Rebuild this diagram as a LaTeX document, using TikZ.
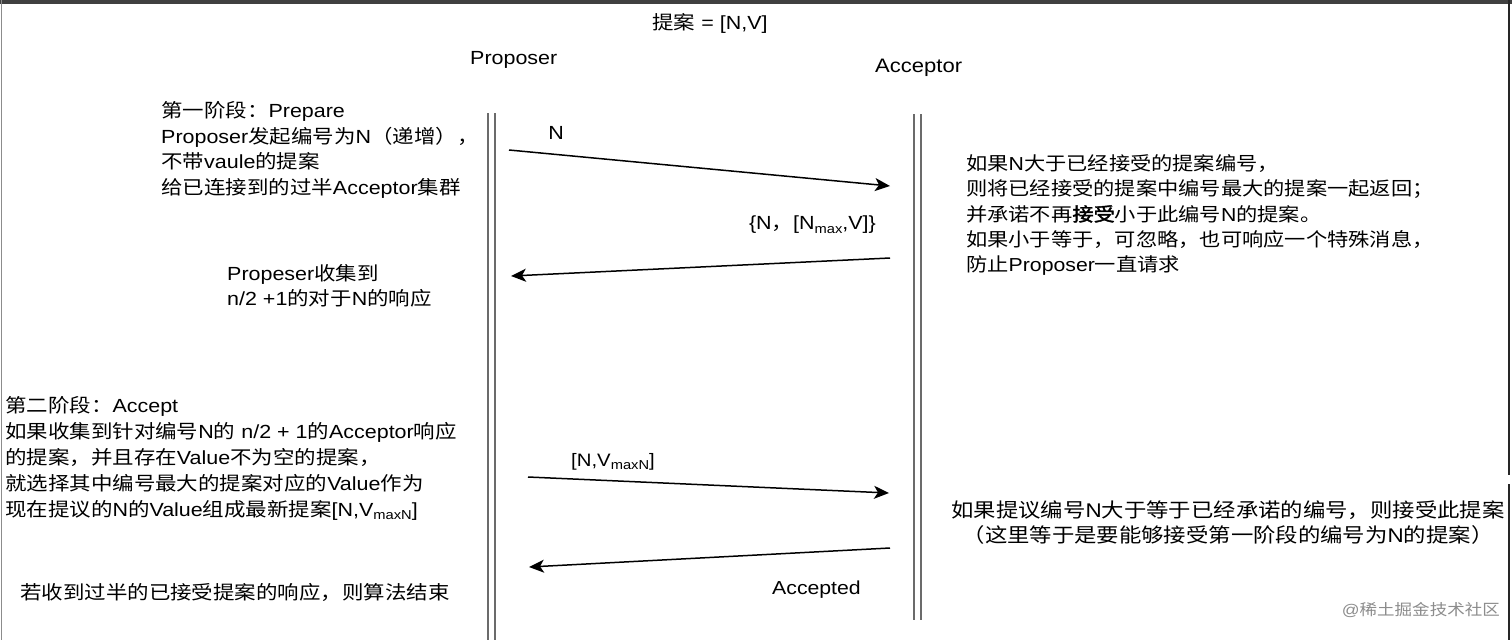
\documentclass[tikz,border=0pt]{standalone}
\usepackage{fontspec}
\usepackage{graphicx}
\setmainfont{Liberation Sans}
\newfontfamily\latinfont{Liberation Sans}
\newfontfamily\cjk{Noto Sans CJK SC}[AutoFakeBold=2]
\usetikzlibrary{arrows.meta}
\XeTeXinterchartokenstate=1
\newXeTeXintercharclass\CJKcls
\makeatletter
\count@="4E00
\loop\XeTeXcharclass\count@=\CJKcls\ifnum\count@<"9FFF\advance\count@ by 1\repeat
\count@="3000
\loop\XeTeXcharclass\count@=\CJKcls\ifnum\count@<"303F\advance\count@ by 1\repeat
\count@="FF00
\loop\XeTeXcharclass\count@=\CJKcls\ifnum\count@<"FFEF\advance\count@ by 1\repeat
\makeatother
\XeTeXinterchartoks 0 \CJKcls = {\cjk}
\XeTeXinterchartoks 4095 \CJKcls = {\cjk}
\XeTeXinterchartoks \CJKcls 0 = {\latinfont}
\XeTeXinterchartoks \CJKcls 4095 = {\latinfont}
\newcommand\sx[1]{\scalebox{1.13}[1]{#1}}
\newcommand\ml[1]{\begin{tabular}{@{}l@{}}#1\end{tabular}}
\newcommand\mc[1]{\begin{tabular}{@{}c@{}}#1\end{tabular}}
\newcommand\sbx[1]{\raisebox{-0.32ex}{\fontsize{13}{13}\selectfont #1}}
\tikzset{
  lbl/.style={inner sep=0pt, anchor=west},
  life/.style={line width=2pt, draw=black!58},
  msg/.style={line width=1.5pt, draw=black, -{Stealth[length=15pt,width=13pt,inset=4pt]}},
  f19/.style={font=\fontsize{19}{25.5}\selectfont},
}
\begin{document}
\begin{tikzpicture}[x=1pt,y=-1pt]
\useasboundingbox (0,0) rectangle (1512,640);
\fill[white] (0,0) rectangle (1512,640);
% frame of the screenshot
\fill[black!75] (0,0) rectangle (1512,4);
\draw[black!45, line width=1.5pt] (1.5,0) -- (1.5,640);
\draw[black!85, line width=2pt] (1509,0) -- (1509,475);
\draw[black!85, line width=2pt] (1509,484) -- (1509,640);
% lifelines
\coordinate (pa1) at (488,113);   \coordinate (pa2) at (488,640);
\coordinate (pb1) at (494.5,113); \coordinate (pb2) at (494.5,640);
\coordinate (aa1) at (913.5,114); \coordinate (aa2) at (913.5,620);
\coordinate (ab1) at (920.5,114); \coordinate (ab2) at (920.5,620);
\draw[life] (pa1) -- (pa2);
\draw[life] (pb1) -- (pb2);
\draw[life] (aa1) -- (aa2);
\draw[life] (ab1) -- (ab2);
% titles
\node[inner sep=0pt, f19] (title) at (710,23) {\sx{提案 = [N,V]}};
\node[lbl, f19] (prop) at (470,60) {\sx{Proposer}};
\node[lbl, font=\fontsize{19.5}{25}\selectfont] (acc) at (875,68) {\sx{Acceptor}};
% phase 1
\node[lbl, f19] (ph1) at (161,151) {\sx{\ml{第一阶段：Prepare\\Proposer发起编号为N（递增），\\不带vaule的提案\\给已连接到的过半Acceptor集群}}};
\node[lbl, font=\fontsize{19}{25}\selectfont] (coll) at (227,287.5) {\sx{\ml{Propeser收集到\\n/2 +1的对于N的响应}}};
\node[lbl, font=\fontsize{18.8}{25.3}\selectfont] (r1) at (966,216) {\sx{\ml{如果N大于已经接受的提案编号，\\则将已经接受的提案中编号最大的提案一起返回；\\并承诺不再\textbf{接受}小于此编号N的提案。\\如果小于等于，可忽略，也可响应一个特殊消息，\\防止Proposer一直请求}}};
% phase 2
\node[lbl, font=\fontsize{19}{26}\selectfont] (ph2) at (5,459) {\sx{\ml{第二阶段：Accept\\如果收集到针对编号N的 n/2 + 1的Acceptor响应\\的提案，并且存在Value不为空的提案，\\就选择其中编号最大的提案对应的Value作为\\现在提议的N的Value组成最新提案[N,V\sbx{maxN}]}}};
\node[inner sep=0pt, font=\fontsize{19.8}{25}\selectfont] (r2) at (1228,524.5) {\sx{\mc{如果提议编号N大于等于已经承诺的编号，则接受此提案\\（这里等于是要能够接受第一阶段的编号为N的提案）}}};
\node[lbl, f19] (fin) at (20,592) {\sx{若收到过半的已接受提案的响应，则算法结束}};
% messages
\coordinate (m1s) at (509,150); \coordinate (m1e) at (890,186);
\coordinate (m2s) at (890,258); \coordinate (m2e) at (511,276);
\coordinate (m3s) at (528,477); \coordinate (m3e) at (889,493);
\coordinate (m4s) at (890,548); \coordinate (m4e) at (529,567);
\draw[msg] (m1s) -- (m1e);
\draw[msg] (m2s) -- (m2e);
\draw[msg] (m3s) -- (m3e);
\draw[msg] (m4s) -- (m4e);
\node[inner sep=0pt, f19] (lN) at (556,133) {\sx{N}};
\node[inner sep=0pt, anchor=east, font=\fontsize{19}{22}\selectfont] (lNmax) at (876,225) {\sx{\textbraceleft N，[N\sbx{max},V]\textbraceright}};
\node[lbl, font=\fontsize{18}{22}\selectfont] (lNV) at (571,462) {\sx{[N,V\sbx{maxN}]}};
\node[lbl, font=\fontsize{18.8}{22}\selectfont] (lacc) at (772,590) {\sx{Accepted}};
% watermark
\node[inner sep=0pt, anchor=east, text=black!45, font=\fontsize{15.5}{18}\selectfont] (wm) at (1500,610) {\sx{@稀土掘金技术社区}};
\end{tikzpicture}
\end{document}
